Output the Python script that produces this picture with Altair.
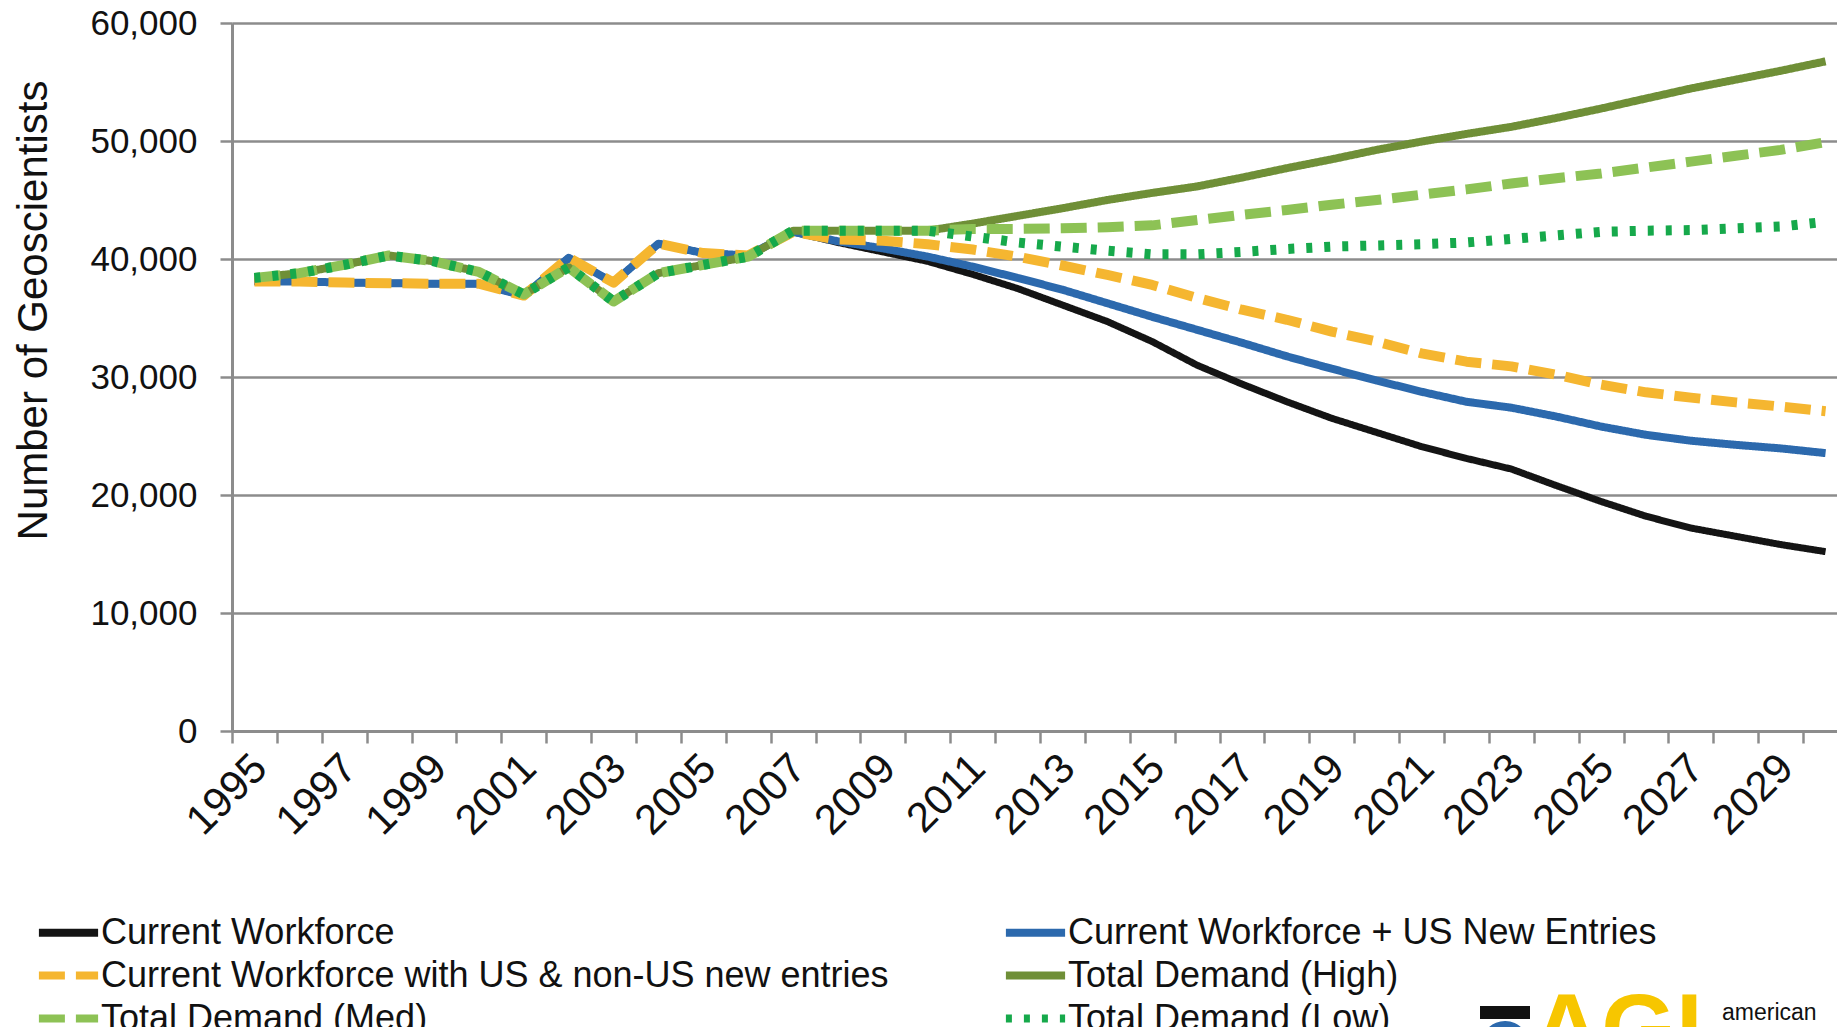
import altair as alt
import pandas as pd

years = [1995, 1996, 1997, 1998, 1999, 2000, 2001, 2002, 2003, 2004, 2005, 2006,
         2007, 2008, 2009, 2010, 2011, 2012, 2013, 2014, 2015, 2016, 2017, 2018,
         2019, 2020, 2021, 2022, 2023, 2024, 2025, 2026, 2027, 2028, 2029, 2030]

# legend order (column-major: left column then right column)
series_names = [
    "Current Workforce",
    "Current Workforce with US & non-US new entries",
    "Total Demand (Med)",
    "Current Workforce + US New Entries",
    "Total Demand (High)",
    "Total Demand (Low)",
]
# drawing order (bottom to top)
draw_order = [
    "Current Workforce",
    "Current Workforce + US New Entries",
    "Current Workforce with US & non-US new entries",
    "Total Demand (High)",
    "Total Demand (Med)",
    "Total Demand (Low)",
]

current_workforce = [38100, 38100, 38000, 37950, 37900, 37900, 36900, 40100, 38000, 41300, 40500, 40300,
                     42300, 41400, 40600, 39800, 38700, 37500, 36100, 34700, 33000, 31000, 29400, 27900,
                     26500, 25300, 24100, 23100, 22200, 20800, 19450, 18200, 17200, 16500, 15800, 15200]
cw_us_new = [38100, 38100, 38000, 37950, 37900, 37900, 36900, 40100, 38000, 41300, 40500, 40300,
             42300, 41500, 40900, 40200, 39350, 38400, 37400, 36250, 35100, 34000, 32900, 31750,
             30700, 29700, 28750, 27900, 27400, 26650, 25800, 25100, 24600, 24250, 23950, 23550]
cw_us_nonus = [38100, 38100, 38000, 37950, 37900, 37900, 36900, 40100, 38000, 41300, 40500, 40300,
               42300, 41650, 41550, 41250, 40800, 40200, 39450, 38650, 37800, 36700, 35700, 34850,
               33850, 33000, 32000, 31300, 30900, 30200, 29350, 28700, 28250, 27850, 27500, 27100]
demand_high = [38400, 38800, 39500, 40300, 39800, 38900, 37000, 39300, 36400, 38800, 39500, 40200,
               42400, 42400, 42400, 42400, 43000, 43650, 44300, 45000, 45600, 46150, 46900, 47700,
               48450, 49250, 49950, 50600, 51200, 51950, 52750, 53600, 54450, 55200, 55950, 56750]
demand_med = [38400, 38800, 39500, 40300, 39800, 38900, 37000, 39300, 36400, 38800, 39500, 40200,
              42400, 42400, 42400, 42400, 42550, 42550, 42600, 42700, 42850, 43300, 43750, 44150,
              44600, 45000, 45450, 45900, 46400, 46850, 47250, 47750, 48250, 48750, 49250, 49900]
demand_low = [38400, 38800, 39500, 40300, 39800, 38900, 37000, 39300, 36400, 38800, 39500, 40200,
              42400, 42400, 42400, 42400, 41900, 41400, 41050, 40700, 40400, 40400, 40600, 40850,
              41050, 41150, 41250, 41400, 41700, 42000, 42300, 42400, 42450, 42600, 42750, 43150]

y_ticks = [0, 10000, 20000, 30000, 40000, 50000, 60000]

values_by_series = {
    "Current Workforce": current_workforce,
    "Current Workforce + US New Entries": cw_us_new,
    "Current Workforce with US & non-US new entries": cw_us_nonus,
    "Total Demand (High)": demand_high,
    "Total Demand (Med)": demand_med,
    "Total Demand (Low)": demand_low,
}
rows = []
for name, vals in values_by_series.items():
    for yr, v in zip(years, vals):
        rows.append({"year": yr, "series": name, "value": v})
df = pd.DataFrame(rows)

# styles, in legend order
colors = ["#141414", "#f5b630", "#8dc255", "#2c69ad", "#6f8f37", "#16a94b"]
dashes = [[1, 0], [26, 11], [26, 11], [1, 0], [1, 0], [6, 12]]
width_by_series = {
    "Current Workforce": 7,
    "Current Workforce + US New Entries": 8,
    "Current Workforce with US & non-US new entries": 10,
    "Total Demand (High)": 8,
    "Total Demand (Med)": 10,
    "Total Demand (Low)": 10,
}

GRID = "#8c8c8c"
FONT = "Liberation Sans"

legend = alt.Legend(
    title=None, orient="none", legendX=-186, legendY=887, columns=2,
    columnPadding=100, rowPadding=2, symbolType="M-1.6,0L1.6,0", symbolSize=1369,
    symbolStrokeWidth=8, labelFontSize=36, labelLimit=2000, labelOffset=10,
    padding=0, labelColor="#111111", labelFont=FONT,
)

x_enc = alt.X(
    "year:O", sort="ascending", bandPosition=0.5,
    scale=alt.Scale(type="band", paddingInner=0, paddingOuter=0, range=[0, 1616]),
    axis=alt.Axis(
        title=None,
        labelExpr="datum.value % 2 == 1 ? datum.label : ''",
        labelAngle=315, labelAlign="right", labelBaseline="top",
        labelFontSize=42, labelOffset=-9, labelPadding=4, labelOverlap=False,
        labelColor="#111111", labelFont=FONT,
        tickBand="extent", tickSize=12, tickColor=GRID, tickWidth=2.5,
        domainColor=GRID, domainWidth=3, grid=False,
    ),
)
y_enc = alt.Y(
    "value:Q",
    scale=alt.Scale(domain=[0, 60000], nice=False),
    axis=alt.Axis(
        values=y_ticks, format=",.0f", title="Number of Geoscientists",
        titleFontSize=42, titleFontWeight="normal", titleAngle=270,
        titleX=-199, titleY=287, titleAlign="center", titleBaseline="middle",
        titleFont=FONT, titleColor="#111111",
        labelFontSize=35, labelPadding=23, labelColor="#111111", labelFont=FONT,
        tickSize=12, tickColor=GRID, tickWidth=2.5,
        grid=True, gridColor=GRID, gridWidth=2.5,
        domainColor=GRID, domainWidth=3,
    ),
)
color_enc = alt.Color("series:N", scale=alt.Scale(domain=series_names, range=colors), legend=legend)
dash_enc = alt.StrokeDash("series:N", scale=alt.Scale(domain=series_names, range=dashes), legend=legend)

base = alt.Chart(df)
layers = []
for name in draw_order:
    layers.append(
        base.transform_filter(alt.datum.series == name)
        .mark_line(strokeWidth=width_by_series[name], strokeJoin="round")
        .encode(x=x_enc, y=y_enc, color=color_enc, strokeDash=dash_enc)
    )

logo_df = pd.DataFrame({"t": ["american"]})
agi_df = pd.DataFrame({"t": ["AGI"]})
icon_df = pd.DataFrame({"t": ["icon"]})
logo_text = alt.Chart(logo_df).mark_text(
    align="left", baseline="alphabetic", fontSize=23, font=FONT, color="#111111"
).encode(x=alt.value(1490), y=alt.value(997), text="t:N")
agi_text = alt.Chart(agi_df).mark_text(
    align="left", baseline="top", fontSize=96, fontWeight="bold", font=FONT, color="#f7c600"
).encode(x=alt.value(1300), y=alt.value(962), text="t:N")
icon = alt.Chart(icon_df).mark_rect(color="#111111").encode(
    x=alt.value(1248), x2=alt.value(1298), y=alt.value(983), y2=alt.value(996)
)
icon_arc = alt.Chart(icon_df).mark_arc(
    radius=24, radius2=17, theta=4.7, theta2=7.9, color="#2c69ad"
).encode(x=alt.value(1273), y=alt.value(1022))
icon_arc2 = alt.Chart(icon_df).mark_arc(
    radius=13, radius2=7, theta=4.7, theta2=7.9, color="#2c69ad"
).encode(x=alt.value(1273), y=alt.value(1022))

chart = alt.layer(*layers, icon, icon_arc, icon_arc2, agi_text, logo_text).properties(
    width=1605, height=708,
    autosize=alt.AutoSizeParams(type="none"),
    padding={"left": 224, "top": 15, "right": 0, "bottom": 296},
).configure_view(stroke=None).configure(background="white", font=FONT)

chart.save("out.html", embed_options={"renderer": "svg", "actions": False})
